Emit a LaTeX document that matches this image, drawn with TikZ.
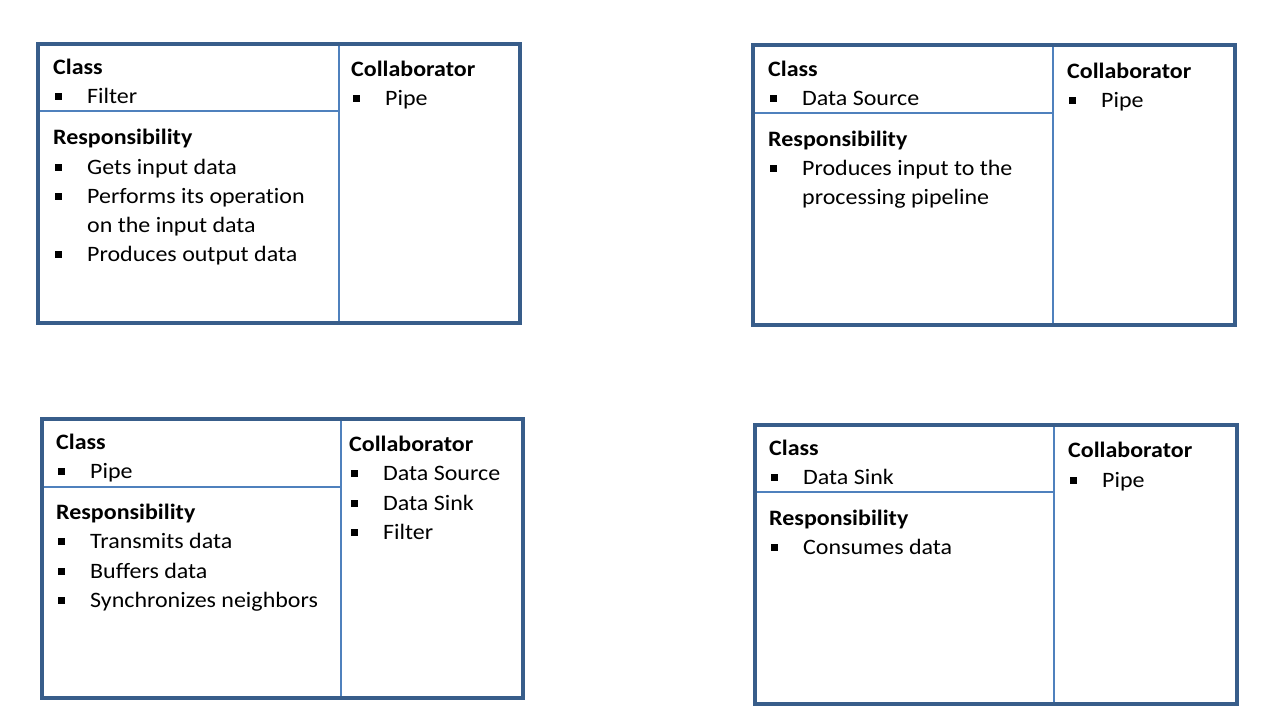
\documentclass[tikz,border=0pt]{standalone}
\usepackage{fontspec}
\setmainfont{Carlito}[Ligatures=NoCommon, FakeStretch=1.09]
\usepackage{xcolor}
\definecolor{cardedge}{HTML}{385D8A}
\definecolor{cardsplit}{HTML}{4F81BD}

\begin{document}
\begin{tikzpicture}[x=1pt, y=-1pt, font=\fontsize{22}{26}\selectfont,
  edge/.style={cardedge, line width=3.6pt},
  split/.style={cardsplit, line width=2.8pt},
  head/.style={anchor=base west, inner sep=0pt, font=\fontsize{22}{26}\selectfont\bfseries},
  txt/.style={anchor=base west, inner sep=0pt},
  item/.style={txt, execute at begin node={\makebox[34pt][l]{\hspace{2pt}\rule[3.5pt]{6.5pt}{6.5pt}}}}]
\useasboundingbox (0,0) rectangle (1267,728);

% Filter card
\draw[split] (339,44) -- (339,323);
\draw[split] (38,111) -- (339,111);
\draw[edge] (38,44) rectangle (520,323);
\node[head] (fclass) at (53,74) {Class};
\node[item] (fname) at (53,103) {Filter};
\node[head] (fresp) at (53,144) {Responsibility};
\node[item] (fr1) at (53,174) {Gets input data};
\node[item] (fr2) at (53,203) {Performs its operation};
\node[txt] (fr2b) at (87,232) {on the input data};
\node[item] (fr3) at (53,261) {Produces output data};
\node[head] (fcoll) at (351,76) {Collaborator};
\node[item] (fc1) at (351,105) {Pipe};

% Data Source card
\draw[split] (1053,45) -- (1053,325);
\draw[split] (753,113) -- (1053,113);
\draw[edge] (753,45) rectangle (1235,325);
\node[head] (sclass) at (768,76) {Class};
\node[item] (sname) at (768,105) {Data Source};
\node[head] (sresp) at (768,146) {Responsibility};
\node[item] (sr1) at (768,175) {Produces input to the};
\node[txt] (sr1b) at (802,204) {processing pipeline};
\node[head] (scoll) at (1067,78) {Collaborator};
\node[item] (sc1) at (1067,107) {Pipe};

% Pipe card
\draw[split] (341,419) -- (341,698);
\draw[split] (42,487) -- (341,487);
\draw[edge] (42,419) rectangle (523,698);
\node[head] (pclass) at (56,449) {Class};
\node[item] (pname) at (56,478) {Pipe};
\node[head] (presp) at (56,519) {Responsibility};
\node[item] (pr1) at (56,548) {Transmits data};
\node[item] (pr2) at (56,578) {Buffers data};
\node[item] (pr3) at (56,607) {Synchronizes neighbors};
\node[head] (pcoll) at (349,451) {Collaborator};
\node[item] (pc1) at (349,480) {Data Source};
\node[item] (pc2) at (349,510) {Data Sink};
\node[item] (pc3) at (349,539) {Filter};

% Data Sink card
\draw[split] (1054,425) -- (1054,704);
\draw[split] (755,492) -- (1054,492);
\draw[edge] (755,425) rectangle (1237,704);
\node[head] (kclass) at (769,455) {Class};
\node[item] (kname) at (769,484) {Data Sink};
\node[head] (kresp) at (769,525) {Responsibility};
\node[item] (kr1) at (769,554) {Consumes data};
\node[head] (kcoll) at (1068,457) {Collaborator};
\node[item] (kc1) at (1068,487) {Pipe};

\end{tikzpicture}
\end{document}
